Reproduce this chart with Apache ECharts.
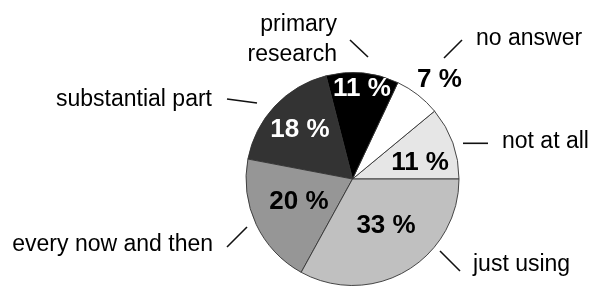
<!DOCTYPE html>
<html>
<head>
<meta charset="utf-8">
<script src="https://cdn.jsdelivr.net/npm/echarts@6/dist/echarts.min.js"></script>
<style>
    html, body { margin: 0; padding: 0; background: #fff; }
    #main { width: 590px; height: 287px; }
</style>
</head>
<body>
<div id="main"></div>
<script>
    // 数据（百分比，逆时针从3点钟方向开始）
    const categories = ['not at all', 'no answer', 'primary\nresearch', 'substantial part', 'every now and then', 'just using'];
    const shares = [11, 7, 11, 18, 20, 33];

    // 样式
    const sliceColors = ['#e6e6e6', '#ffffff', '#000000', '#333333', '#969696', '#c0c0c0'];
    const pctColors = ['#000', '#000', '#fff', '#fff', '#000', '#000'];
    const pieCenter = [352.5, 179];
    const pieRadius = 106.5;

    // 百分比标签：半径比例 + 角度微调(度)
    const pctRadius = [0.652, 1.24, 0.85, 0.674, 0.547, 0.542];
    const pctShift = [-6.5, -3.4, -0.6, 0.2, -1.9, 4.9];

    // 名称标签和短线的位置（相对圆心）
    const nameSpots = [
        { pos: [149.5, -37], align: 'left', tick: [[110.5, -35.7], [135.5, -35.7]] },
        { pos: [123.5, -140], align: 'left', tick: [[91.5, -121], [109.5, -139]] },
        { pos: [-15.5, -139], align: 'right', tick: [[-2.5, -139], [15.5, -122]] },
        { pos: [-140.5, -79], align: 'right', tick: [[-125.5, -80], [-95.5, -76]] },
        { pos: [-139.5, 66], align: 'right', tick: [[-125.5, 68], [-105.5, 48]] },
        { pos: [120.5, 86], align: 'left', tick: [[87.5, 72], [107.5, 92]] }
    ];

    const cx = pieCenter[0], cy = pieCenter[1];

    var myChart = echarts.init(document.getElementById('main'));

    let pieData = categories.map((name, i) => ({
        name: name,
        value: shares[i],
        itemStyle: { color: sliceColors[i] },
        label: { color: pctColors[i] }
    }));

    let ghostData = categories.map((name, i) => ({
        name: name,
        value: shares[i]
    }));

    let option = {
        backgroundColor: '#fff',
        animation: false,
        series: [
            {
                type: 'pie',
                center: pieCenter,
                radius: pieRadius,
                startAngle: 0,
                clockwise: false,
                avoidLabelOverlap: false,
                silent: true,
                itemStyle: {
                    borderColor: '#333',
                    borderWidth: 0.9
                },
                label: {
                    show: true,
                    position: 'inside',
                    formatter: '{c} %',
                    fontFamily: 'Liberation Sans, Arial, sans-serif',
                    fontWeight: 'bold',
                    fontSize: 26
                },
                labelLine: { show: false },
                labelLayout: function (params) {
                    const r = params.labelRect;
                    const lx = r.x + r.width / 2 - cx;
                    const ly = r.y + r.height / 2 - cy;
                    const ang = Math.atan2(-ly, lx) + pctShift[params.dataIndex] * Math.PI / 180;
                    const dist = pctRadius[params.dataIndex] * pieRadius;
                    return {
                        x: cx + dist * Math.cos(ang),
                        y: cy - dist * Math.sin(ang)
                    };
                },
                data: pieData
            },
            {
                // 透明饼图，只用来放名称标签
                type: 'pie',
                center: pieCenter,
                radius: pieRadius,
                startAngle: 0,
                clockwise: false,
                avoidLabelOverlap: false,
                silent: true,
                itemStyle: {
                    color: 'rgba(0,0,0,0)',
                    borderWidth: 0
                },
                label: {
                    show: true,
                    position: 'outside',
                    formatter: '{b}',
                    fontFamily: 'Liberation Sans, Arial, sans-serif',
                    fontSize: 23,
                    lineHeight: 30,
                    color: '#000'
                },
                labelLine: {
                    show: true,
                    length: 10,
                    length2: 0,
                    lineStyle: { color: '#111', width: 1.6 }
                },
                labelLayout: function (params) {
                    const s = nameSpots[params.dataIndex];
                    return {
                        x: cx + s.pos[0],
                        y: cy + s.pos[1],
                        align: s.align,
                        verticalAlign: 'middle',
                        labelLinePoints: s.tick.map(p => [cx + p[0], cy + p[1]])
                    };
                },
                data: ghostData
            }
        ]
    };
    myChart.setOption(option);
</script>
</body>
</html>
